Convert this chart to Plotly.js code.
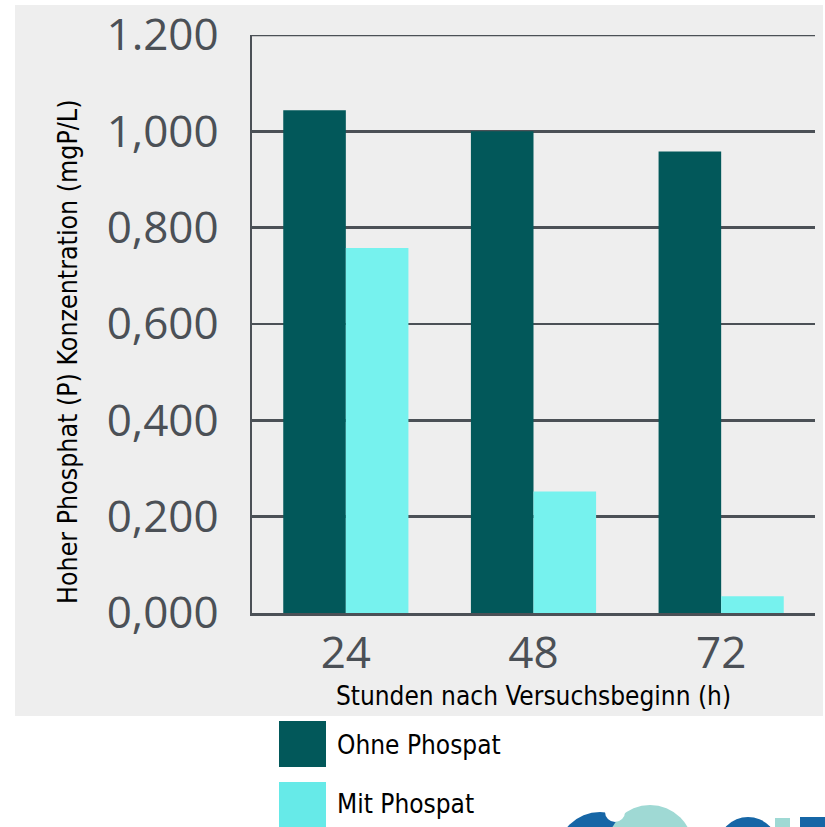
<!DOCTYPE html>
<html><head><meta charset="utf-8">
<script src="https://cdn.plot.ly/plotly-3.0.1.min.js"></script>
<style>html,body{margin:0;padding:0;background:#fff;}#chart{width:825px;height:827px;}</style>
</head><body><div id="chart"></div>
<script>
const categories = ["24", "48", "72"];
const seriesNames = ["Ohne Phospat", "Mit Phospat"];
const ohnePhospat = [1.044, 1.000, 0.958];
const mitPhospat = [0.758, 0.252, 0.035];
const yTickVals = [0, 0.2, 0.4, 0.6, 0.8, 1.0, 1.2];
const yTickText = ["0,000", "0,200", "0,400", "0,600", "0,800", "1,000", "1.200"];
const xTitle = "Stunden nach Versuchsbeginn (h)";
const yTitle = "Hoher Phosphat (P) Konzentration (mgP/L)";

const darkTeal = "#02585a";
const lightCyan = "#76f2ee";
const axisCol = "#4b5056";
const logoBlue = "#1666a6";
const logoTeal = "#9fd9d4";
const condensed = "'DejaVu Sans Condensed', 'Liberation Sans Narrow', sans-serif";

const traces = [
  {type: "bar", x: categories, y: ohnePhospat, name: seriesNames[0], marker: {color: darkTeal}},
  {type: "bar", x: categories, y: mitPhospat, name: seriesNames[1], marker: {color: lightCyan}}
];

const L = 252, R = 10, T = 35, B = 214, W = 825, H = 827;
const pw = W - L - R, ph = H - T - B;
const px = v => (v - L) / pw;
const py = v => (H - B - v) / ph;
const circ = (cx, cy, r, col) => ({type: "circle", xref: "paper", yref: "paper",
  x0: px(cx - r), x1: px(cx + r), y0: py(cy + r), y1: py(cy - r), fillcolor: col, line: {width: 0}});
const rect = (x0, x1, y0, y1, col, layer) => ({type: "rect", xref: "paper", yref: "paper",
  x0: px(x0), x1: px(x1), y0: py(y1), y1: py(y0), fillcolor: col, line: {width: 0}, layer: layer || "above"});

const shapes = [
  rect(15, 823, 5, 716, "#eeeeee", "below"),
  {type: "line", xref: "paper", yref: "y", x0: 0, x1: 1, y0: yTickVals[yTickVals.length - 1], y1: yTickVals[yTickVals.length - 1],
   line: {color: axisCol, width: 2.5}},
  rect(279, 326, 721, 767, darkTeal),
  rect(279, 326, 782, 840, "#66eae8"),
  circ(600, 855, 43, logoBlue),
  circ(650, 848, 43, logoTeal),
  circ(615, 812, 10, "#ffffff"),
  circ(748, 847, 30, logoBlue),
  circ(752, 850, 16, "#ffffff"),
  rect(775, 790, 818, 830, logoTeal),
  rect(800, 825, 817, 830, logoBlue)
];

const annotations = [
  {xref: "paper", yref: "paper", x: px(335), y: py(745), xanchor: "left", yanchor: "middle",
   text: seriesNames[0], showarrow: false, font: {family: condensed, size: 26, color: "#000"}},
  {xref: "paper", yref: "paper", x: px(335), y: py(804), xanchor: "left", yanchor: "middle",
   text: seriesNames[1], showarrow: false, font: {family: condensed, size: 26, color: "#000"}},
  {xref: "paper", yref: "paper", x: px(67), y: py(352), xanchor: "center", yanchor: "middle",
   textangle: -90, text: yTitle, showarrow: false, font: {family: condensed, size: 26.5, color: "#000"}}
];

const layout = {
  width: W, height: H,
  margin: {l: L, r: R, t: T, b: B, pad: 0},
  paper_bgcolor: "rgba(0,0,0,0)",
  plot_bgcolor: "rgba(0,0,0,0)",
  showlegend: false,
  barmode: "group",
  bargap: 0.333,
  bargroupgap: 0,
  xaxis: {
    type: "category", range: [-0.5, 2.5],
    showline: true, linecolor: axisCol, linewidth: 2.5,
    ticks: "", showgrid: false,
    tickfont: {family: "'Open Sans', sans-serif", size: 44, color: axisCol},
    title: {text: xTitle, font: {family: condensed, size: 26, color: "#000"}, standoff: 4},
    automargin: false
  },
  yaxis: {
    range: [0, 1.2], tickvals: yTickVals, ticktext: yTickText,
    showline: true, linecolor: axisCol, linewidth: 2.5,
    showgrid: true, gridcolor: axisCol, gridwidth: 2.5,
    zeroline: false,
    ticks: "outside", ticklen: 22, tickcolor: "rgba(0,0,0,0)",
    tickfont: {family: "'Open Sans', sans-serif", size: 44, color: axisCol},
    automargin: false
  },
  shapes: shapes,
  annotations: annotations
};

Plotly.newPlot("chart", traces, layout, {displayModeBar: false, staticPlot: true});
</script>
</body></html>
